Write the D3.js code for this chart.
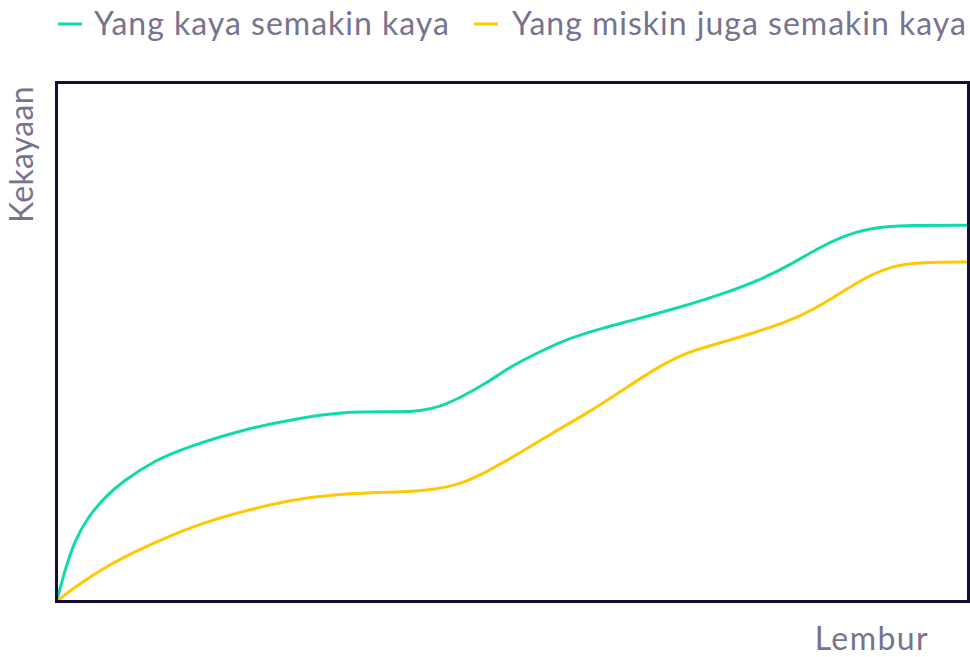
<!DOCTYPE html>
<html>
<head>
<meta charset="utf-8">
<script src="https://cdn.jsdelivr.net/npm/d3@7"></script>
<style>
  html, body { margin: 0; padding: 0; background: #fff; }
  svg { display: block; font-family: Lato, "Open Sans", sans-serif; }
</style>
</head>
<body>
<svg id="chart" width="970" height="657"></svg>
<script>
// Series names and colours
const seriesNames = ["Yang kaya semakin kaya", "Yang miskin juga semakin kaya"];
const seriesColors = ["#10dba8", "#ffc800"];
const xLabel = "Lembur";
const yLabel = "Kekayaan";

// Time (0–100) on x, wealth (0–100) on y
const richX = [0, 0.93, 2.03, 3.45, 5.32, 7.18, 10.8, 14.42, 20.1, 26.7, 32.3, 37.6, 39.9, 42.0, 44.2, 47.2, 49.7, 52.7, 56.3, 59.9, 63.2, 68.4, 72.8, 77.1, 80.4, 83.7, 87.0, 90.3, 93.6, 100];
const richY = [0, 6.07, 11.85, 16.28, 20.13, 23.03, 27.26, 29.77, 33.0, 35.4, 36.7, 36.5, 36.7, 37.5, 39.2, 42.1, 45.2, 47.9, 50.8, 52.7, 54.2, 56.7, 59.1, 61.9, 64.8, 68.3, 71.0, 72.2, 72.5, 72.5];

const poorX = [0, 2.03, 5.32, 8.94, 12.66, 16.28, 21.77, 26.7, 32.2, 37.6, 41.0, 44.5, 47.2, 50.8, 54.4, 58.2, 61.8, 65.4, 69.1, 72.8, 77.1, 81.5, 84.8, 88.1, 91.4, 94.7, 100];
const poorY = [0, 2.79, 6.65, 9.92, 12.81, 15.32, 18.0, 19.9, 20.9, 21.1, 21.4, 22.7, 25.0, 28.6, 32.5, 36.3, 40.4, 44.6, 48.1, 49.8, 52.1, 54.8, 58.1, 61.9, 64.6, 65.4, 65.4];

const svg = d3.select("#chart");
const plotLeft = 56.5, plotRight = 968.5, plotTop = 82.5, plotBottom = 601.5;

const x = d3.scaleLinear().domain([0, 100]).range([plotLeft, plotRight]);
const y = d3.scaleLinear().domain([0, 100]).range([plotBottom, plotTop]);

const line = d3.line()
  .x(d => x(d[0]))
  .y(d => y(d[1]))
  .curve(d3.curveBasis);

const series = [
  d3.zip(richX, richY),
  d3.zip(poorX, poorY)
];

const textColor = "#77738f";

// Plot lines (drawn beneath the frame)
svg.append("g")
  .selectAll("path")
  .data(series)
  .join("path")
  .attr("d", line)
  .attr("fill", "none")
  .attr("stroke", (d, i) => seriesColors[i])
  .attr("stroke-width", 3)
  .attr("stroke-linecap", "round");

// Frame
svg.append("rect")
  .attr("x", plotLeft)
  .attr("y", plotTop)
  .attr("width", plotRight - plotLeft)
  .attr("height", plotBottom - plotTop)
  .attr("fill", "none")
  .attr("stroke", "#150d35")
  .attr("stroke-width", 3);

// Legend
const legendPos = [{ lx: 58, tx: 94 }, { lx: 474, tx: 512 }];
const legend = svg.append("g").selectAll("g")
  .data(seriesNames)
  .join("g");
legend.append("line")
  .attr("x1", (d, i) => legendPos[i].lx)
  .attr("x2", (d, i) => legendPos[i].lx + 24)
  .attr("y1", 24).attr("y2", 24)
  .attr("stroke", (d, i) => seriesColors[i])
  .attr("stroke-width", 3);
legend.append("text")
  .attr("x", (d, i) => legendPos[i].tx)
  .attr("y", 35)
  .attr("fill", textColor)
  .attr("font-size", 32)
  .attr("letter-spacing", 1)
  .text(d => d);

// Axis titles
svg.append("text")
  .attr("x", 929)
  .attr("y", 650)
  .attr("text-anchor", "end")
  .attr("fill", textColor)
  .attr("font-size", 32)
  .attr("letter-spacing", 1.4)
  .text(xLabel);

svg.append("text")
  .attr("transform", "translate(33,223) rotate(-90)")
  .attr("fill", textColor)
  .attr("font-size", 32)
  .attr("letter-spacing", 0.3)
  .text(yLabel);
</script>
</body>
</html>
